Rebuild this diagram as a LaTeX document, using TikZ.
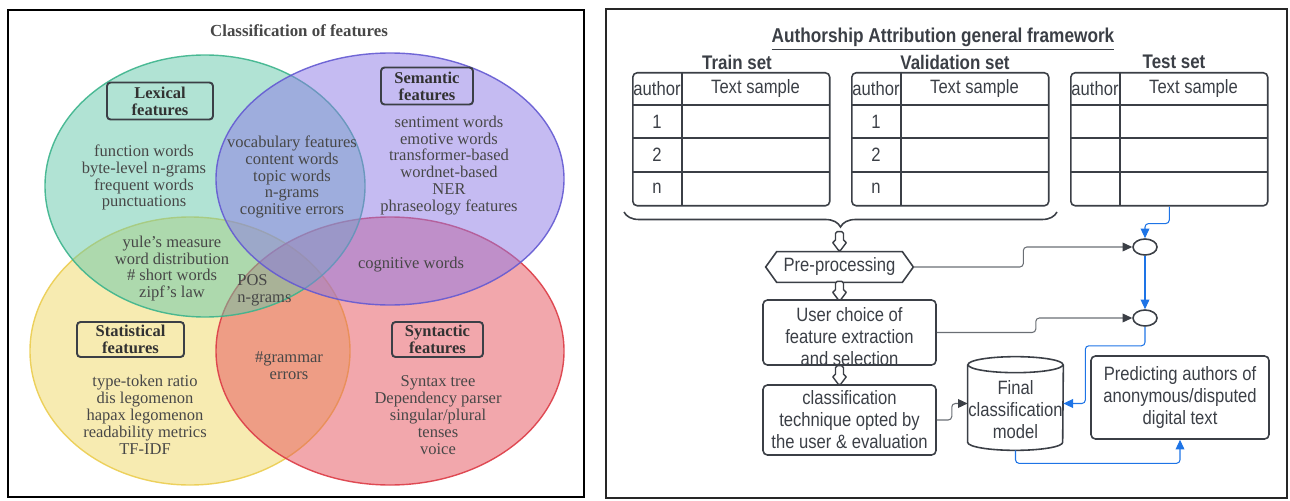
\documentclass[tikz,border=0pt]{standalone}
\usepackage{fontspec}
\setmainfont{Liberation Serif}
\newfontfamily\flowfont[FakeStretch=0.86]{Liberation Sans}
\usetikzlibrary{calc,positioning,arrows.meta,shapes.geometric,decorations.pathreplacing}

\definecolor{inkgray}{HTML}{3B3F46}
\definecolor{wiregray}{HTML}{6A6E74}
\definecolor{wireblue}{HTML}{1E74E6}
\definecolor{venntext}{HTML}{474747}
\definecolor{lexcol}{RGB}{100,200,170}
\definecolor{lexedge}{RGB}{60,180,140}
\definecolor{semcol}{RGB}{140,120,230}
\definecolor{semedge}{RGB}{100,90,210}
\definecolor{stacol}{RGB}{240,215,100}
\definecolor{staedge}{RGB}{235,205,80}
\definecolor{syncol}{RGB}{230,80,90}
\definecolor{synedge}{RGB}{220,60,70}

\tikzset{
  venntxt/.style={text=venntext, align=center, inner sep=0pt, font=\fontsize{9.4}{9.64}\selectfont},
  vennbox/.style={draw=inkgray, line width=1.1pt, rounded corners=2pt, align=center, inner sep=0pt,
    minimum height=0.74cm, text=venntext!70!black, font=\bfseries\fontsize{9.4}{9.64}\selectfont},
  flowtxt/.style={text=inkgray, align=center, inner sep=0pt, font=\flowfont\fontsize{11}{12.5}\selectfont},
  flowbox/.style={flowtxt, draw=inkgray, line width=0.9pt, rounded corners=2.5pt},
  tabhead/.style={text=inkgray, inner sep=0pt, font=\flowfont\bfseries\fontsize{11.2}{13}\selectfont},
  ring/.style={draw=inkgray, ellipse, line width=0.9pt, minimum width=0.48cm, minimum height=0.32cm, inner sep=0pt},
  greywire/.style={draw=wiregray, line width=0.6pt, rounded corners=2pt, -{Triangle[length=5.5pt,width=5pt,color=inkgray]}},
  bluewire/.style={draw=wireblue, line width=0.6pt, rounded corners=2pt, -{Triangle[length=5.5pt,width=5pt]}},
  pics/droparrow/.style={code={
    \draw [inkgray, fill=white, line width=0.8pt, rounded corners=1pt]
      (-4,0) -- (-4,-10) -- (4,-10) -- (4,0) -- (7.5,0) -- (0,10) -- (-7.5,0) -- cycle;
  }}
}

\begin{document}
\begin{tikzpicture}[x=0.02cm,y=-0.02cm]
\useasboundingbox (0,0) rectangle (1290,500);

%% frames
\draw [black, line width=1.2pt] (8,10) rectangle (584,497);
\draw [black!85, line width=1.2pt] (606,9) rectangle (1287,498);

%% Venn diagram
\begin{scope}[fill opacity=0.5, draw opacity=0.9, line width=0.8pt]
\filldraw [fill=stacol, draw=staedge] (190,351) ellipse [x radius=160, y radius=134];
\filldraw [fill=syncol, draw=synedge] (390,351) ellipse [x radius=174, y radius=134];
\filldraw [fill=lexcol, draw=lexedge] (205,186) ellipse [x radius=160, y radius=131];
\filldraw [fill=semcol, draw=semedge] (390,179) ellipse [x radius=174, y radius=126];
\end{scope}

\node [venntxt, font=\bfseries\fontsize{9.6}{11}\selectfont] (venntitle) at (299,31) {Classification of features};

% group labels
\node [vennbox, minimum width=2.12cm] (lexbox) at (160,101) {Lexical\\features};
\node [vennbox, minimum width=1.84cm] (sembox) at (427,86) {Semantic\\features};
\node [vennbox, minimum width=2.14cm, minimum height=0.7cm] (stabox) at (130.5,339.5) {Statistical\\features};
\node [vennbox, minimum width=1.82cm, minimum height=0.7cm] (synbox) at (437.5,339.5) {Syntactic\\features};

% members
\node [venntxt] (lexonly) at (144,177.5) {function words\\byte-level n-grams\\frequent words\\punctuations};
\node [venntxt] (semonly) at (449,165.5) {sentiment words\\emotive words\\transformer-based\\wordnet-based\\NER\\phraseology features};
\node [venntxt] (lexsem) at (292,177) {vocabulary features\\content words\\topic words\\n-grams\\cognitive errors};
\node [venntxt] (lexsta) at (172,268.5) {yule's measure\\word distribution\\\# short words\\zipf's law};
\node [venntxt, align=left, anchor=west] (allfour) at (237,290.5) {POS\\n-grams};
\node [venntxt] (semsyn) at (411,265) {cognitive words};
\node [venntxt] (stasyn) at (289,366) {\#grammar\\errors};
\node [venntxt] (staonly) at (145,415) {type-token ratio\\dis legomenon\\hapax legomenon\\readability metrics\\TF-IDF};
\node [venntxt] (synonly) at (438,415) {Syntax tree\\Dependency parser\\singular/plural\\tenses\\voice};

%% framework
\node [tabhead, font=\flowfont\bfseries\fontsize{11.4}{13}\selectfont] (fwtitle) at (943,39) {\underline{Authorship Attribution general framework}};

% data tables
\foreach \tab/\x/\head/\hx in {train/632/Train set/737, valid/851/Validation set/955, test/1070/Test set/1174}{
	\node [draw=inkgray, line width=0.9pt, rounded corners=2.5pt, anchor=north west, inner sep=0pt,
		minimum width=3.94cm, minimum height=2.66cm] (\tab) at (\x,72) {};
	\draw [inkgray, line width=0.9pt] (\x+50,72) -- (\x+50,205);
	\foreach \y in {105,138,172}{
		\draw [inkgray, line width=0.9pt] (\x,\y) -- (\x+197,\y);
	}
	\node [flowtxt] at (\x+25,88.5) {author};
	\node [flowtxt] at (\x+123.5,88.5) {Text sample};
	\node [tabhead] at (\hx,62) {\head};
}
\foreach \x in {632,851}{
	\foreach \n/\y in {1/121.5, 2/155, n/188.5}{
		\node [flowtxt] at (\x+25,\y) {\n};
	}
}

% training and validation data feed the pipeline
\draw [inkgray, line width=0.9pt, decorate, decoration={brace, mirror, amplitude=0.3cm}] (624,212) -- (1057,212);

% pipeline
\node [flowtxt, minimum width=2.94cm, minimum height=0.6cm] (prep) at (839.5,267) {Pre-processing};
\draw [inkgray, line width=0.9pt] (prep.west) -- ($(prep.north west)+(11,0)$) -- ($(prep.north east)+(-11,0)$)
	-- (prep.east) -- ($(prep.south east)+(-11,0)$) -- ($(prep.south west)+(11,0)$) -- cycle;
\node [flowbox, minimum width=3.46cm, minimum height=1.3cm] (featsel) at (849.5,332.5) {};
\node [flowtxt] (feattxt) at ($(featsel)+(0,4)$) {User choice of\\feature extraction\\and selection};
\node [flowbox, minimum width=3.46cm, minimum height=1.4cm] (clf) at (849.5,420) {classification\\technique opted by\\the user \& evaluation};

\pic at ($(prep.north)+(0,-10)$) {droparrow};
\pic at ($(prep.south)+(0,9)$) {droparrow};
\pic at ($(prep.south |- featsel.south)+(0,10)$) {droparrow};

% model store
\node [minimum width=1.9cm, minimum height=1.86cm, inner sep=0pt] (model) at (1015.5,403.5) {};
\draw [inkgray, line width=0.9pt] ($(model.north west)+(0,8)$) -- ($(model.south west)+(0,-8)$)
	arc [start angle=180, end angle=0, x radius=47.5, y radius=8] -- ($(model.north east)+(0,8)$);
\draw [inkgray, line width=0.9pt] ($(model.north)+(0,8)$) ellipse [x radius=47.5, y radius=8];
\node [flowtxt] (modeltxt) at ($(model)+(0,6)$) {Final\\classification\\model};

\node [flowbox, minimum width=3.56cm, minimum height=1.66cm] (predict) at (1180,397.5) {Predicting authors of\\anonymous/disputed\\digital text};

% junctions
\node [ring] (ring1) at (1145,247) {};
\node [ring] (ring2) at (1145,318) {};

%% connectors
\draw [bluewire] (test.south) -- ++(0,17) -| (ring1.north);
\draw [greywire] (prep.east) -- ++(110,0) |- (ring1.west);
\draw [bluewire] (ring1.south) -- (ring2.north);
\draw [greywire] (featsel.east) -- ++(99,0) |- (ring2.west);
\draw [bluewire] (ring2.south) -- ++(0,19) -| ($(model.east)+(22,0)$) -- (model.east);
\draw [greywire] (clf.east) -- ++(15,0) |- (model.west);
\draw [bluewire] (model.south) -- ++(0,13) -| (predict.south);

\end{tikzpicture}
\end{document}
